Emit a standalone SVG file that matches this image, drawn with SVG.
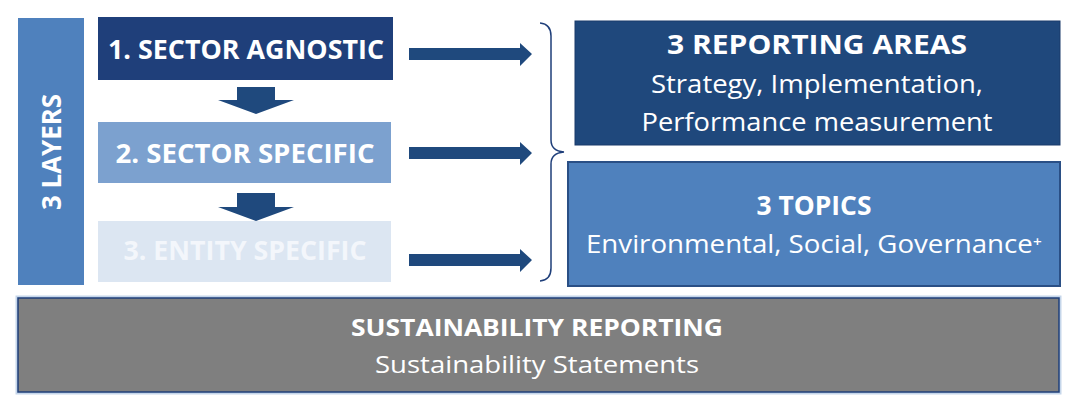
<svg xmlns="http://www.w3.org/2000/svg" width="1080" height="416" viewBox="0 0 1080 416">
<style>
.b{font-family:"Open Sans","Noto Sans",sans-serif;font-weight:bold;fill:#fff;text-anchor:middle}
.r{font-family:"Open Sans","Noto Sans",sans-serif;fill:#fff;text-anchor:middle}
.arr{fill:#1f497d}
</style>
<rect width="1080" height="416" fill="#fff"/>
<g id="layers">
<rect x="18" y="18" width="66" height="267" fill="#4f81bd"/>
<text class="b" font-size="26" transform="translate(61,152) rotate(-90)" textLength="116" lengthAdjust="spacingAndGlyphs">3 LAYERS</text>
</g>
<g id="layer1">
<rect x="98" y="17" width="295" height="63" fill="#1f3f7a"/>
<text class="b" x="246" y="59" font-size="27" textLength="276" lengthAdjust="spacingAndGlyphs">1. SECTOR AGNOSTIC</text>
</g>
<g id="layer2">
<rect x="98" y="122" width="293" height="61" fill="#7ca1cf"/>
<text class="b" x="245" y="163" font-size="27" textLength="259" lengthAdjust="spacingAndGlyphs">2.  SECTOR SPECIFIC</text>
</g>
<g id="layer3">
<rect x="98" y="221" width="293" height="61" fill="#dce6f2"/>
<text class="b" x="245" y="260" font-size="27" fill="#f3f6fb" style="fill:#f3f6fb" textLength="243" lengthAdjust="spacingAndGlyphs">3. ENTITY SPECIFIC</text>
</g>
<g id="areas">
<rect x="575" y="21" width="485" height="124" fill="#1f487c" stroke="#1a3a6a" stroke-width="1"/>
<text class="b" x="817" y="54" font-size="26" textLength="300" lengthAdjust="spacingAndGlyphs">3 REPORTING AREAS</text>
<text class="r" x="817" y="93" font-size="25" textLength="332" lengthAdjust="spacingAndGlyphs">Strategy, Implementation,</text>
<text class="r" x="817" y="131" font-size="25" textLength="351" lengthAdjust="spacingAndGlyphs">Performance measurement</text>
</g>
<g id="topics">
<rect x="568" y="162" width="492" height="124" fill="#4f81bd" stroke="#2a4f85" stroke-width="2"/>
<text class="b" x="814" y="215" font-size="26" textLength="115" lengthAdjust="spacingAndGlyphs">3 TOPICS</text>
<text class="r" x="814" y="253" font-size="25" textLength="456" lengthAdjust="spacingAndGlyphs">Environmental, Social, Governance⁺</text>
</g>
<g id="reporting">
<rect x="17" y="297" width="1043" height="96" fill="none" stroke="#c5d6ea" stroke-width="3"/>
<rect x="18" y="298" width="1041" height="94" fill="#7f7f7f" stroke="#1f3f7a" stroke-width="1.5"/>
<text class="b" x="537" y="336" font-size="24" textLength="372" lengthAdjust="spacingAndGlyphs">SUSTAINABILITY REPORTING</text>
<text class="r" x="537" y="373" font-size="24" textLength="324" lengthAdjust="spacingAndGlyphs">Sustainability Statements</text>
</g>
<g id="connectors">
<polygon class="arr" points="237,87 275,87 275,100 294,100 256,114 218,100 237,100"/>
<polygon class="arr" points="237,193 275,193 275,207 294,207 256,221 218,207 237,207"/>
<polygon class="arr" points="409,48 520,48 520,43 532,54 520,66 520,60 409,60"/>
<polygon class="arr" points="409,147 520,147 520,142 532,153 520,165 520,159 409,159"/>
<polygon class="arr" points="409,254 520,254 520,249 532,260 520,272 520,266 409,266"/>
<path d="M540,23 Q551,24 551,36 L551,140 Q551,151 564,152 Q551,153 551,164 L551,268 Q551,280 540,281" fill="none" stroke="#1f3f7a" stroke-width="1.5"/>
</g>
</svg>
